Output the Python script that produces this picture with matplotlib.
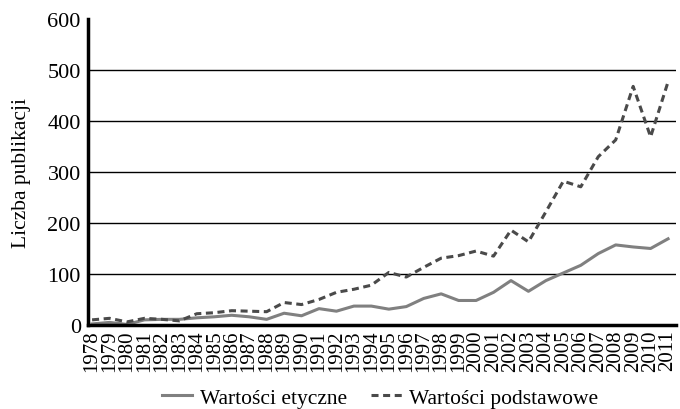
import matplotlib
matplotlib.use("Agg")
from matplotlib import pyplot as plt

# data
years = list(range(1978, 2012))
etyczne = [2, 5, 1, 10, 11, 11, 14, 16, 19, 16, 11, 23, 18, 32, 27, 37, 37, 31, 36, 52,
           61, 48, 48, 64, 87, 66, 87, 102, 117, 140, 157, 153, 150, 169]
podstawowe = [10, 13, 6, 13, 11, 8, 22, 24, 28, 27, 26, 44, 40, 50, 64, 70, 78, 103, 94, 113,
              131, 136, 145, 135, 186, 163, 222, 282, 271, 330, 363, 468, 369, 477]

plt.rcParams['font.family'] = ['Liberation Serif', 'DejaVu Serif']

fig = plt.figure(figsize=(6.8, 4.1), dpi=100)
ax = fig.add_axes([0.129, 0.205, 0.865, 0.746])

x = list(range(len(years)))
ax.plot(x, etyczne, color='#808080', lw=2.2, label='Wartości etyczne')
ax.plot(x, podstawowe, color='#4a4a4a', lw=2.2, ls=(0, (2.3, 1.5)), label='Wartości podstawowe')

# horizontal grid lines
for v in [100, 200, 300, 400, 500]:
    ax.axhline(v, color='black', lw=1, zorder=0)

ax.set_ylim(0, 600)
ax.set_xlim(-0.25, 33.45)
ax.set_yticks([0, 100, 200, 300, 400, 500, 600])
ax.set_xticks(x)
ax.set_xticklabels([str(y) for y in years], rotation=90, fontsize=15)
ax.tick_params(axis='y', labelsize=16, length=0, pad=5)
ax.tick_params(axis='x', length=0, pad=3)

ax.spines['top'].set_visible(False)
ax.spines['right'].set_visible(False)
ax.spines['left'].set_linewidth(2.5)
ax.spines['bottom'].set_linewidth(2.5)

ax.set_ylabel('Liczba publikacji', fontsize=15.5, labelpad=12)

fig.legend(loc='center', bbox_to_anchor=(0.559, 0.028), ncol=2, frameon=False,
           fontsize=15.5, handlelength=1.4, columnspacing=1.15, handletextpad=0.35)

plt.savefig('out.png', dpi=100)
